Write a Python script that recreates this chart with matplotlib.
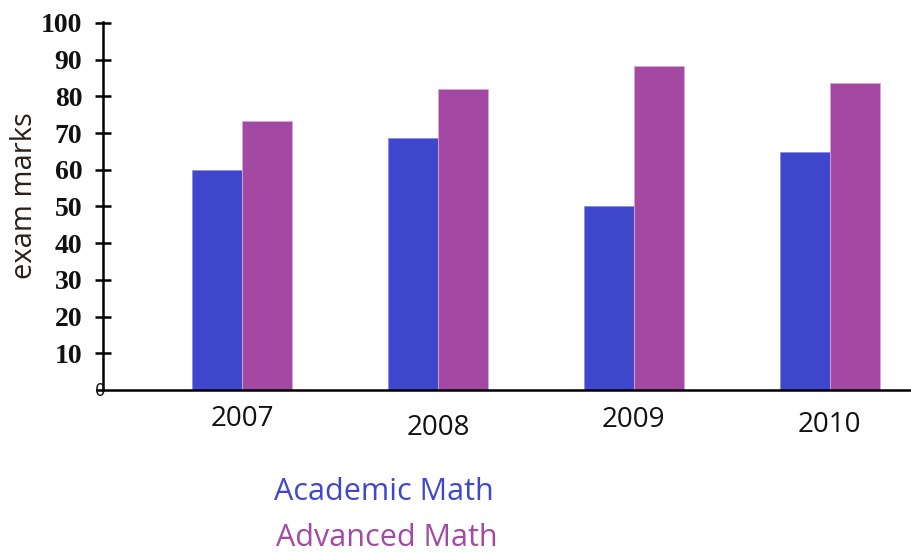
import matplotlib
matplotlib.use("Agg")
import matplotlib.pyplot as plt
import numpy as np

years = ["2007", "2008", "2009", "2010"]
academic = [60, 68.7, 50, 64.7]
advanced = [73.4, 82, 88.3, 83.5]
yticks = [10, 20, 30, 40, 50, 60, 70, 80, 90, 100]
series_names = ["Academic Math", "Advanced Math"]

c_blue = "#3F48CC"
c_purple = "#A349A4"

fig = plt.figure(figsize=(9.12, 5.52), dpi=100)
ax = fig.add_axes([0.113, 0.2935, 0.887, 0.667])

x = np.arange(len(years))
w = 0.255
ax.bar(x - w / 2, academic, width=w, color=c_blue, edgecolor="#8a8fe0", linewidth=0.6)
ax.bar(x + w / 2, advanced, width=w, color=c_purple, edgecolor="#d9a6da", linewidth=0.6)

ax.set_xlim(-0.71, 3.42)
ax.set_ylim(0, 100.3)

for s in ["top", "right"]:
    ax.spines[s].set_visible(False)
ax.spines["left"].set_linewidth(1.8)
ax.spines["bottom"].set_linewidth(1.8)
ax.spines["bottom"].set_bounds(-0.71 - 0.03, 3.42)

ax.set_yticks(yticks)
ax.set_yticklabels([str(v) for v in yticks], fontfamily="Liberation Serif",
                   fontweight="bold", fontsize=20, color="#111111")
ax.tick_params(axis="y", direction="inout", length=12, width=1.8, pad=9)
ax.set_xticks([])

# origin label
ax.text(-0.71 - 0.016, -0.3, "0", transform=ax.transData, ha="center", va="center",
        fontfamily="DejaVu Sans", fontsize=12, color="#111111", clip_on=False)

# year labels at slightly varying heights as in the reference
label_y = [-8.0, -10.3, -8.3, -9.6]
for xi, yr, ly in zip(x, years, label_y):
    ax.text(xi, ly, yr, ha="center", va="center", fontfamily="Open Sans",
            fontsize=20, color="#111111", clip_on=False)

fig.text(0.027, 0.645, "exam marks", rotation=90, ha="center", va="center",
         fontfamily="Open Sans", fontsize=21, color="#2a2018")

fig.text(0.3, 1 - 492 / 552, series_names[0], ha="left", va="center",
         fontfamily="Open Sans", fontsize=22, color=c_blue)
fig.text(0.303, 1 - 538 / 552, series_names[1], ha="left", va="center",
         fontfamily="Open Sans", fontsize=22, color=c_purple)

fig.savefig("out.png", dpi=100)
